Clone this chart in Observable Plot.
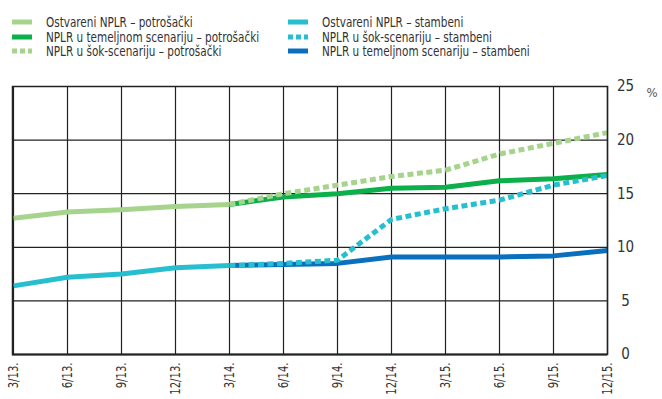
<!DOCTYPE html>
<html><head><meta charset="utf-8">
<script src="https://cdn.jsdelivr.net/npm/d3@7"></script>
<script src="https://cdn.jsdelivr.net/npm/@observablehq/plot@0.6"></script>
<style>
body{margin:0;background:#fff;font-family:"DejaVu Sans Condensed","Liberation Sans",sans-serif;}
#wrap{position:relative;width:662px;height:399px;}
#legend{position:absolute;left:0;top:0;width:662px;height:70px;font-size:13.5px;color:#333;}
.item{position:absolute;height:14px;line-height:14px;white-space:nowrap;}
.sw{position:absolute;top:0;}
.lbl{position:absolute;left:34px;top:0;display:inline-block;transform:scaleX(0.86);transform-origin:0 50%;}
</style></head>
<body><div id="wrap"><div id="legend"></div><div id="chart"></div></div>
<script>
const periods = ["3/13.","6/13.","9/13.","12/13.","3/14.","6/14.","9/14.","12/14.","3/15.","6/15.","9/15.","12/15."];
const consumerActual   = [12.7,13.3,13.5,13.8,14.0,null,null,null,null,null,null,null];
const consumerBaseline = [null,null,null,null,14.0,14.7,15.0,15.5,15.6,16.2,16.4,16.8];
const consumerShock    = [null,null,null,null,14.0,15.0,15.8,16.6,17.2,18.7,19.7,20.7];
const housingActual    = [6.4,7.2,7.5,8.1,8.3,null,null,null,null,null,null,null];
const housingBaseline  = [null,null,null,null,8.3,8.4,8.5,9.1,9.1,9.1,9.2,9.7];
const housingShock     = [null,null,null,null,8.3,8.5,8.8,12.6,13.6,14.4,15.8,16.7];
const yTicks = [0,5,10,15,20,25];

const seriesNames = [
  "Ostvareni NPLR – potrošački",
  "NPLR u temeljnom scenariju – potrošački",
  "NPLR u šok-scenariju – potrošački",
  "Ostvareni NPLR – stambeni",
  "NPLR u šok-scenariju – stambeni",
  "NPLR u temeljnom scenariju – stambeni"
];
const seriesColors = ["#a6d48c","#0bb04b","#a6d48c","#27bfcf","#27bfcf","#0a70bd"];
const seriesDashed = [false,false,true,false,true,false];
const seriesValues = [consumerActual,consumerBaseline,consumerShock,housingActual,housingShock,housingBaseline];

// legend
const leg = document.getElementById("legend");
seriesNames.forEach((n,i)=>{
  const col = i<3?0:1, row = i%3;
  const d = document.createElement("div");
  d.className="item";
  d.style.left = (col===0?12:288)+"px";
  d.style.top = (15+row*14.5)+"px";
  const sw = seriesDashed[i]
    ? `<svg class="sw" width="20" height="14"><line x1="0" x2="20" y1="7" y2="7" stroke="${seriesColors[i]}" stroke-width="5" stroke-dasharray="5,3"/></svg>`
    : `<svg class="sw" width="20" height="14"><line x1="0" x2="20" y1="7" y2="7" stroke="${seriesColors[i]}" stroke-width="5"/></svg>`;
  d.innerHTML = sw + `<span class="lbl">${n}</span>`;
  leg.appendChild(d);
});

const drawOrder = [0,3,1,5,2,4];
const marks = [
  Plot.ruleX(periods,{stroke:"#222",strokeWidth:1.2}),
  Plot.ruleY([5,10,15,20],{stroke:"#222",strokeWidth:1.2}),
];
drawOrder.forEach(i=>{
  const data = periods.map((p,k)=>({p,v:seriesValues[i][k]})).filter(d=>d.v!=null);
  marks.push(Plot.line(data,{x:"p",y:"v",stroke:seriesColors[i],strokeWidth:5,
    strokeDasharray:seriesDashed[i]?"6,3.5":null,strokeLinecap:"butt",strokeLinejoin:"round"}));
});
marks.push(
  Plot.frame({stroke:"#222",strokeWidth:1.5}),
  Plot.ruleY([0],{stroke:"#222",strokeWidth:2}),
  Plot.axisY(yTicks,{anchor:"right",tickSize:0,tickPadding:18,textAnchor:"middle",fontSize:15,label:null,fill:"#333"}),
  Plot.axisX({tickRotate:-90,tickSize:0,tickPadding:8,fontSize:14,label:null,fill:"#333"}),
  Plot.text(["%"],{frameAnchor:"top-right",dx:50,dy:1,fontSize:13,fill:"#555"})
);

const chart = Plot.plot({
  width:662,height:399,
  marginLeft:12,marginRight:55,marginTop:86,marginBottom:45,
  style:{fontFamily:'"DejaVu Sans Condensed","Liberation Sans",sans-serif',background:"transparent"},
  x:{type:"point",domain:periods,padding:0},
  y:{domain:[0,25]},
  marks
});
// condense the rotated x tick labels along their reading direction
d3.select(chart).selectAll('g[aria-label="x-axis tick label"] text').each(function(){
  const t = d3.select(this);
  const tr = t.attr("transform");
  if (tr && tr.includes("rotate")) t.attr("transform", tr + " scale(0.8,1)");
});
document.getElementById("chart").appendChild(chart);
</script></body></html>
